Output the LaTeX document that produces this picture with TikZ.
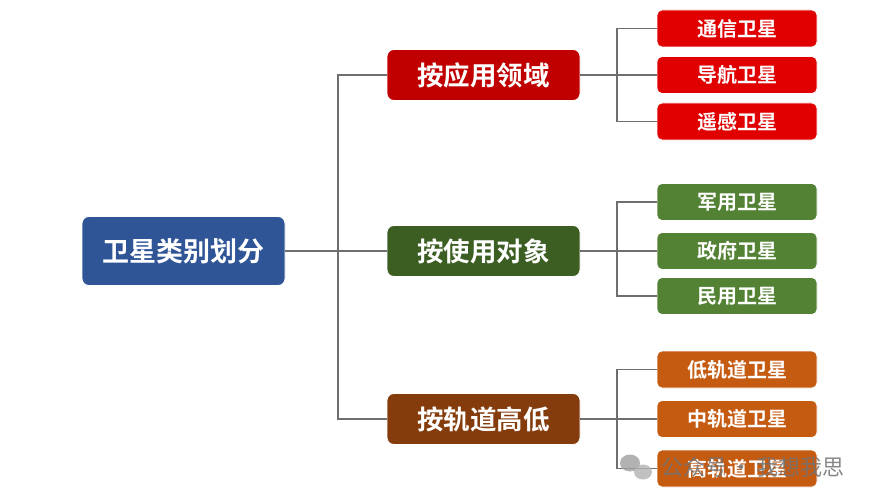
\documentclass[tikz,border=0pt]{standalone}
\usepackage{fontspec}
\newfontfamily\cjk{Noto Sans CJK SC}
\newfontfamily\cjkb{Noto Sans CJK SC Bold}
\definecolor{rootblue}{HTML}{2F5597}
\definecolor{redA}{HTML}{C00000}
\definecolor{redB}{HTML}{E00000}
\definecolor{greenA}{HTML}{3D5E23}
\definecolor{greenB}{HTML}{548235}
\definecolor{brownA}{HTML}{843C0C}
\definecolor{orangeB}{HTML}{C55A11}
\definecolor{linegray}{HTML}{6E6E6E}
\tikzset{
  box/.style={rounded corners=7pt, text=white, inner sep=0pt, font=\cjkb, draw=white, line width=0.8pt},
  rootbox/.style={box, minimum width=203pt, minimum height=69pt, fill=rootblue, font=\cjkb\fontsize{27pt}{30pt}\selectfont},
  midbox/.style={box, minimum width=193pt, minimum height=51pt, font=\cjkb\fontsize{26.5pt}{28pt}\selectfont},
  leafbox/.style={box, rounded corners=5pt, minimum width=160pt, minimum height=37pt, font=\cjkb\fontsize{20pt}{22pt}\selectfont},
  conn/.style={draw=linegray, line width=1.8pt}
}
\begin{document}
\begin{tikzpicture}[x=1pt,y=-1pt]
\useasboundingbox (0,0) rectangle (887,503);
\fill[white] (0,0) rectangle (887,503);
% connectors (drawn first, behind boxes)
\coordinate (t0) at (338,251);
\coordinate (tA) at (617,75);
\coordinate (tB) at (617,251);
\coordinate (tC) at (617,419);
\coordinate (r0) at (285,251);
\coordinate (m1w) at (387,75);  \coordinate (m2w) at (387,251); \coordinate (m3w) at (387,419);
\coordinate (m1e) at (580,75);  \coordinate (m2e) at (580,251); \coordinate (m3e) at (580,419);
% nodes
\node[rootbox] (root) at (183.5,251) {卫星类别划分};
\node[midbox, fill=redA] (m1) at (483.5,75) {按应用领域};
\node[midbox, fill=greenA] (m2) at (483.5,251) {按使用对象};
\node[midbox, fill=brownA] (m3) at (483.5,419) {按轨道高低};
\node[leafbox, fill=redB] (a1) at (737,28.5) {通信卫星};
\node[leafbox, fill=redB] (a2) at (737,75) {导航卫星};
\node[leafbox, fill=redB] (a3) at (737,121.5) {遥感卫星};
\node[leafbox, fill=greenB] (b1) at (737,202) {军用卫星};
\node[leafbox, fill=greenB] (b2) at (737,251) {政府卫星};
\node[leafbox, fill=greenB] (b3) at (737,296) {民用卫星};
\node[leafbox, fill=orangeB] (c1) at (737,369.5) {低轨道卫星};
\node[leafbox, fill=orangeB] (c2) at (737,419) {中轨道卫星};
\node[leafbox, fill=orangeB] (c3) at (737,468.5) {高轨道卫星};
\draw[conn] (root.east) -- (m2.west);
\draw[conn] (m1.west) -| (t0) |- (m3.west);
\draw[conn] (m1.east) -- (a2.west);
\draw[conn] (a1.west) -| (tA) |- (a3.west);
\draw[conn] (m2.east) -- (b2.west);
\draw[conn] (b1.west) -| (tB) |- (b3.west);
\draw[conn] (m3.east) -- (c2.west);
\draw[conn] (c1.west) -| (tC) |- (c3.west);
% watermark
\fill[gray!75, opacity=0.8] (630,463) ellipse (10pt and 8.5pt);
\fill[gray!60, opacity=0.8] (643,472) ellipse (9pt and 7.5pt);
\node[anchor=west, text=black!55, opacity=0.85, font=\cjk\fontsize{22pt}{24pt}\selectfont, inner sep=0pt] (wm) at (661,467) {公众号\,·\,我想我思};
\end{tikzpicture}
\end{document}
